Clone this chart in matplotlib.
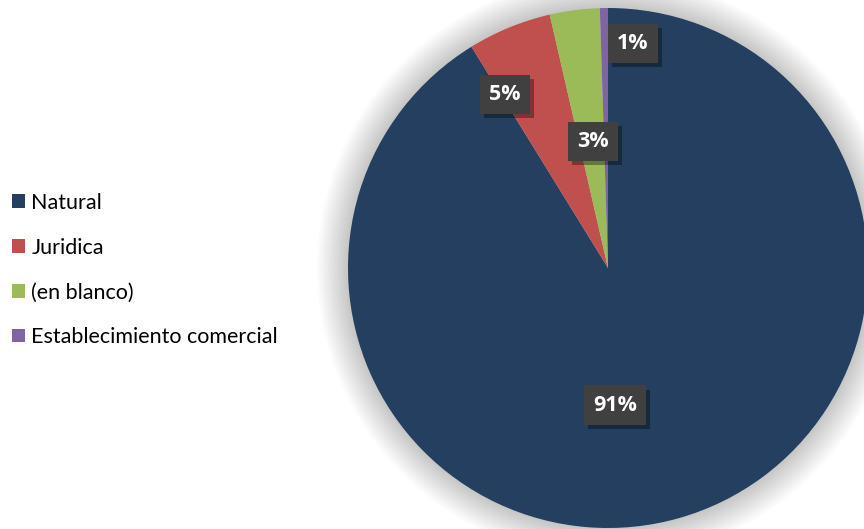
import matplotlib
matplotlib.use("Agg")
import matplotlib.pyplot as plt
from matplotlib.patches import Circle, Rectangle
import matplotlib.patheffects as pe

categories = ["Natural", "Juridica", "(en blanco)", "Establecimiento comercial"]
shares = [91.2, 5.2, 3.1, 0.5]
colors = ["#243F60", "#C0504D", "#9BBB59", "#8064A2"]
# label anchor points in pie units (centre at 0,0, radius 1)
label_pos = [(0.027, -0.527), (-0.396, 0.669), (-0.058, 0.488), (0.096, 0.865)]

fig = plt.figure(figsize=(8.64, 5.29), dpi=100)
ax = fig.add_axes([348 / 864, 1 / 529, 520 / 864, 520 / 529])
ax.axis("off")

# soft halo behind the pie
for k in range(14, 0, -1):
    ax.add_patch(Circle((0.0, 0.0), 1 + k * 0.0085, color="#000000",
                        alpha=0.016, lw=0, zorder=0, clip_on=False))

wedges, _ = ax.pie(shares, colors=colors, startangle=90, counterclock=False,
                   radius=1, wedgeprops=dict(linewidth=0))
for w in wedges:
    w.set_clip_on(False)
    w.set_zorder(2)
ax.set_xlim(-1, 1)
ax.set_ylim(-1, 1)
ax.set_aspect("equal")

total = sum(shares)
for v, (x, y) in zip(shares, label_pos):
    pct = int(v / total * 100 + 0.5)
    t = ax.text(x, y, f"{pct}%", ha="center", va="center",
                fontsize=15.5, fontweight="bold", family="Open Sans", color="white",
                bbox=dict(boxstyle="square,pad=0.42", fc="#404040", ec="none"),
                zorder=4)
    t.get_bbox_patch().set_path_effects([
        pe.SimplePatchShadow(offset=(3, -3), shadow_rgbFace="#000000", alpha=0.35),
        pe.Normal()])

handles = [Rectangle((0, 0), 1, 1, fc=c, ec="none") for c in colors]
fig.legend(handles, categories, loc="upper left", bbox_to_anchor=(-0.006, 0.668),
           frameon=False, prop=dict(family="Lato", size=15.5),
           handlelength=0.6, handleheight=0.6, handletextpad=0.3,
           labelspacing=1.15, borderaxespad=0.4)

fig.savefig("out.png", dpi=100)
